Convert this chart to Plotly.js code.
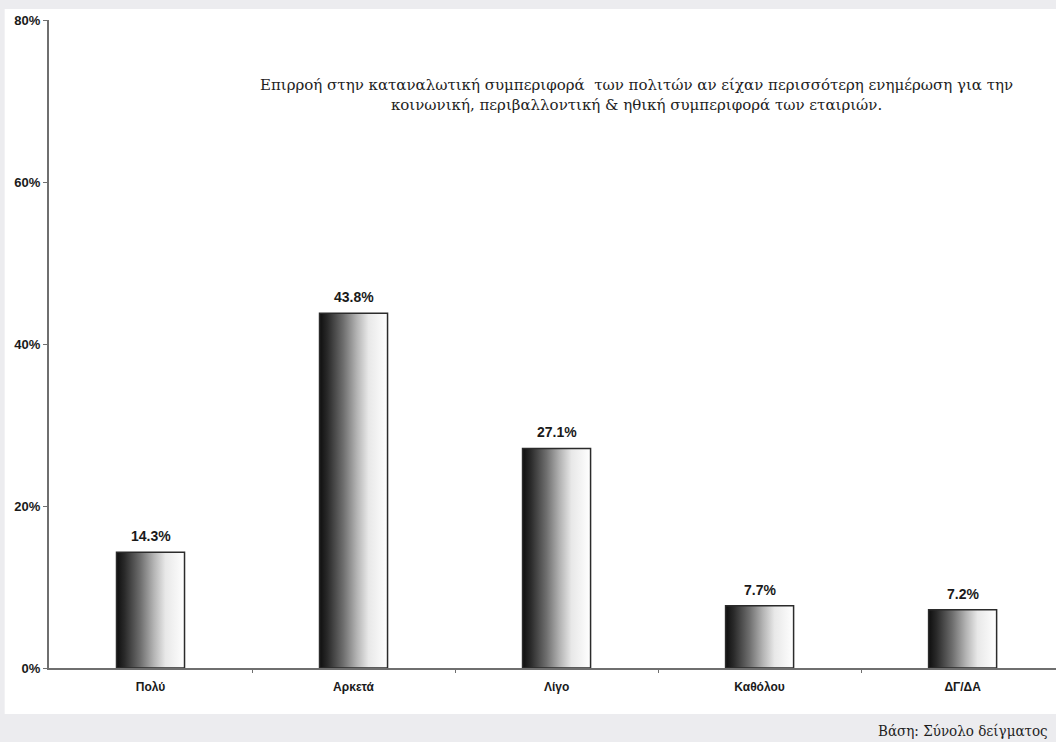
<!DOCTYPE html>
<html>
<head>
<meta charset="utf-8">
<script src="https://cdn.plot.ly/plotly-3.0.1.min.js"></script>
<style>
  html, body { margin: 0; padding: 0; background: #ececef; }
  #chart { width: 1056px; height: 742px; }
</style>
</head>
<body>
<div id="chart"></div>
<script>
// Survey answers and their shares (%)
const categories = ['Πολύ', 'Αρκετά', 'Λίγο', 'Καθόλου', 'ΔΓ/ΔΑ'];
const values = [14.3, 43.8, 27.1, 7.7, 7.2];
const yTickValues = [0, 20, 40, 60, 80];
const yTickLabels = ['0%', '20%', '40%', '60%', '80%'];
const titleLines = [
  'Επιρροή στην καταναλωτική συμπεριφορά  των πολιτών αν είχαν περισσότερη ενημέρωση για την',
  'κοινωνική, περιβαλλοντική & ηθική συμπεριφορά των εταιριών.'
];
const baseNote = 'Βάση: Σύνολο δείγματος';

const barWidth = 0.335;
const shade = [[0, '#0e0e0e'], [0.12, '#2a2a2a'], [0.35, '#6e6e6e'], [0.55, '#b4b4b4'], [0.72, '#e8e8e8'], [1, '#ffffff']];
const sansBold = { family: 'Liberation Sans Narrow, Liberation Sans, Arial', color: '#1a1a1a', weight: 'bold' };

// Each bar is a filled outline with a left-to-right shading
const traces = categories.map((c, i) => {
  const v = values[i];
  const x0 = i - barWidth / 2, x1 = i + barWidth / 2;
  return {
    type: 'scatter',
    mode: 'lines',
    x: [x0, x1, x1, x0, x0],
    y: [0, 0, v, v, 0],
    fill: 'toself',
    fillgradient: { type: 'horizontal', colorscale: shade },
    line: { color: '#2b2b2b', width: 1.5 },
    hoverinfo: 'skip',
    showlegend: false
  };
});

// Boundary ticks between categories on the baseline
traces.push({
  type: 'scatter', mode: 'markers', xaxis: 'x2', yaxis: 'y',
  x: [0.5], y: [0], marker: { opacity: 0 }, hoverinfo: 'skip', showlegend: false
});

// Value labels above each bar
const valueLabels = categories.map((c, i) => ({
  x: i, y: values[i], xref: 'x', yref: 'y',
  text: values[i].toFixed(1) + '%',
  showarrow: false, yanchor: 'bottom', yshift: 6,
  font: Object.assign({ size: 14 }, sansBold)
}));

const layout = {
  width: 1056, height: 742,
  margin: { l: 49, r: 0, t: 20, b: 74 },
  paper_bgcolor: '#ececef',
  plot_bgcolor: 'rgba(0,0,0,0)',
  showlegend: false,
  xaxis: {
    type: 'linear',
    range: [-0.5, 4.46],
    tickvals: categories.map((c, i) => i),
    ticktext: categories,
    showgrid: false, zeroline: false,
    showline: true, linecolor: '#6f6f6f', linewidth: 2,
    ticks: '',
    tickfont: Object.assign({ size: 12 }, sansBold),
    ticklabelstandoff: 7,
    fixedrange: true
  },
  xaxis2: {
    overlaying: 'x', matches: 'x', anchor: 'y',
    tickvals: [0.5, 1.5, 2.5, 3.5],
    showticklabels: false, showgrid: false, zeroline: false, showline: false,
    ticks: 'outside', ticklen: 4, tickcolor: '#6f6f6f', tickwidth: 1
  },
  yaxis: {
    range: [0, 80],
    tickvals: yTickValues,
    ticktext: yTickLabels,
    showgrid: false, zeroline: false,
    showline: true, linecolor: '#6f6f6f', linewidth: 2,
    ticks: 'outside', ticklen: 4, tickcolor: '#6f6f6f',
    tickfont: Object.assign({ size: 13 }, sansBold),
    fixedrange: true
  },
  shapes: [
    { type: 'rect', xref: 'paper', yref: 'paper', layer: 'below',
      x0: -0.044, x1: 1.01, y0: -0.071, y1: 1.017,
      fillcolor: '#ffffff', line: { width: 0 } }
  ],
  annotations: [
    { xref: 'paper', yref: 'paper', x: 0.583, y: 0.884,
      text: titleLines.join('<br>'), showarrow: false, align: 'center',
      xanchor: 'center', yanchor: 'middle',
      font: { family: 'DejaVu Serif, Liberation Serif, serif', size: 15, color: '#1e1e1e' } },
    { xref: 'paper', yref: 'paper', x: 0.994, y: -0.097,
      text: baseNote, showarrow: false, xanchor: 'right', yanchor: 'middle',
      font: { family: 'DejaVu Serif Condensed, DejaVu Serif, serif', size: 15, color: '#1e1e1e' } },
    ...valueLabels
  ]
};

Plotly.newPlot('chart', traces, layout, { displayModeBar: false, staticPlot: true });
</script>
</body>
</html>
